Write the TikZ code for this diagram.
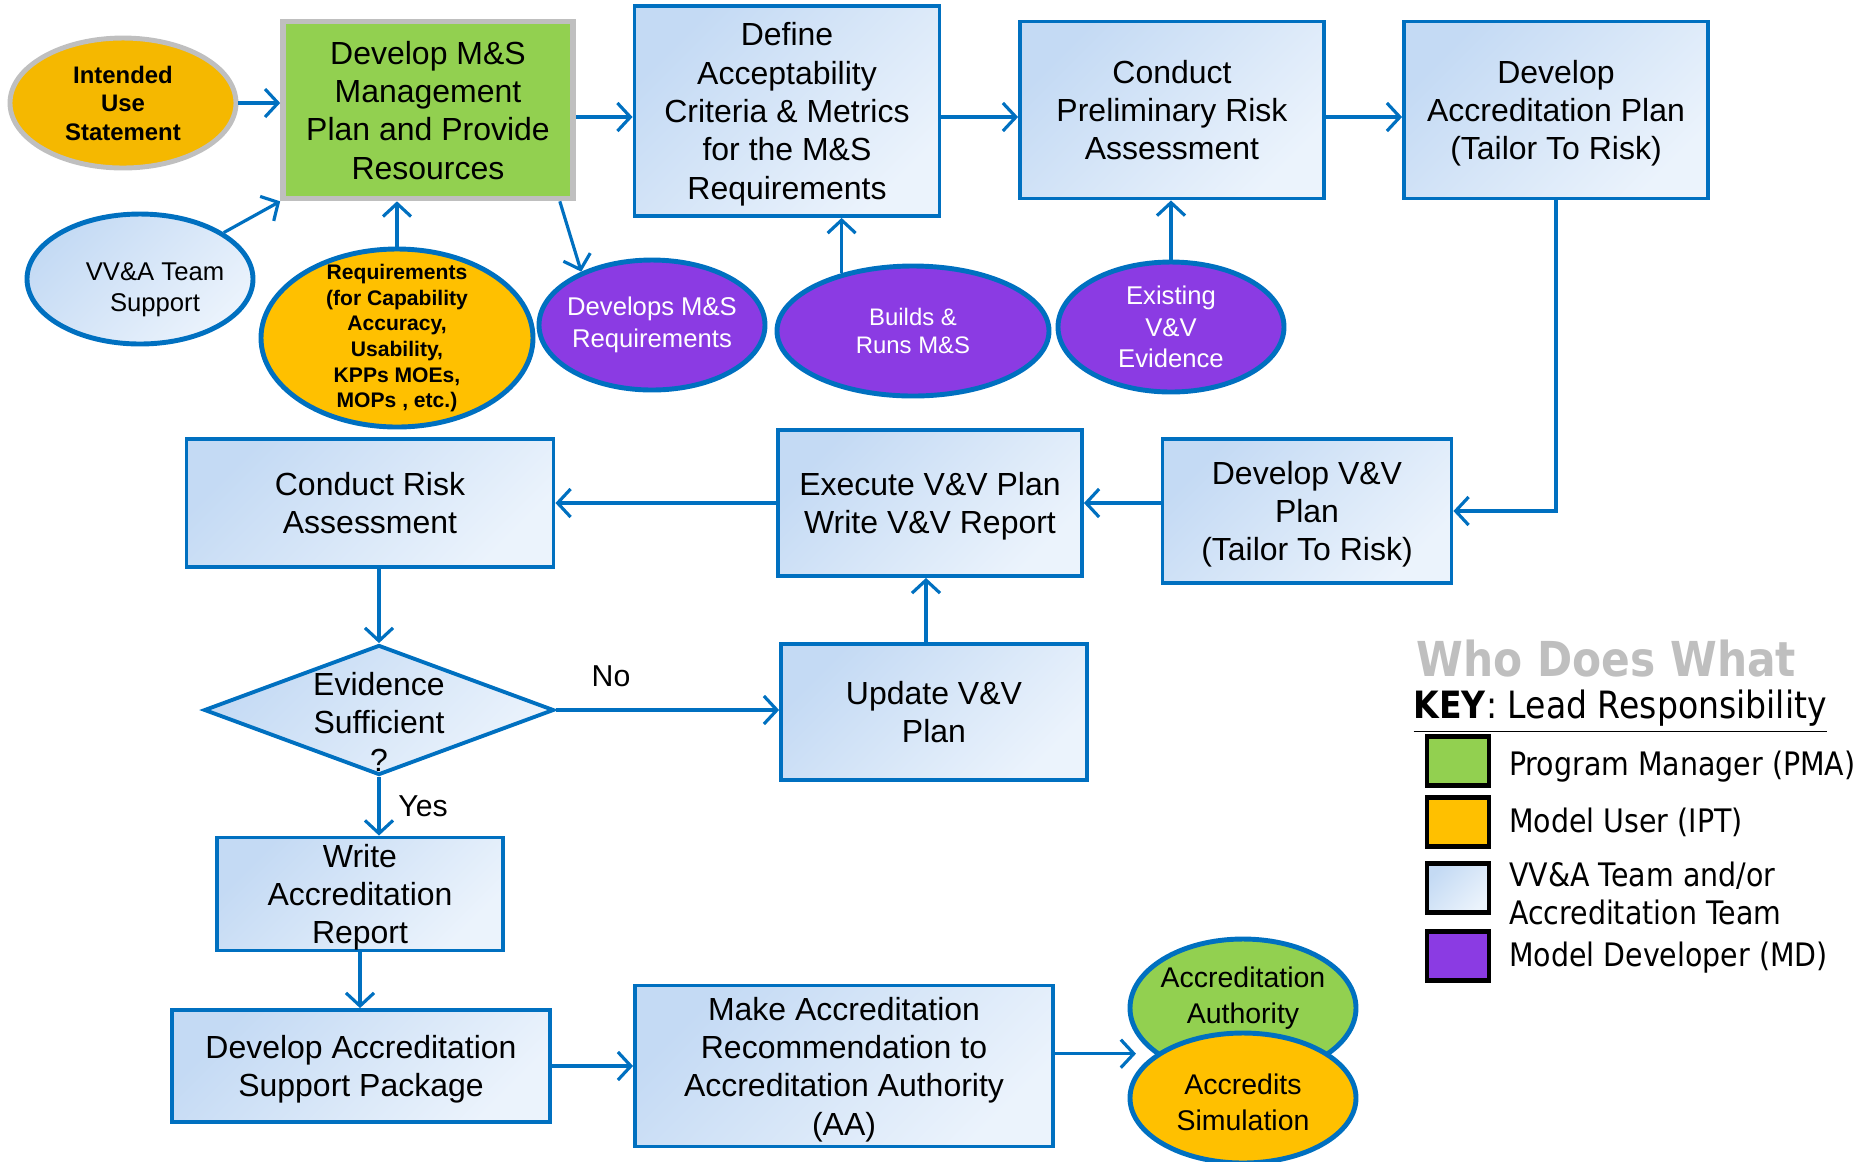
\documentclass[tikz,border=0pt]{standalone}
\usepackage{fontspec}
\setmainfont{Liberation Sans}
\newfontfamily\keyfont{DejaVu Sans}[FakeStretch=0.88]
\usetikzlibrary{arrows.meta,shapes.geometric,positioning}
\definecolor{vvblue}{HTML}{0070C0}
\definecolor{paletop}{HTML}{C4DAF4}
\definecolor{palebot}{HTML}{EBF3FC}
\definecolor{pmgreen}{HTML}{92D050}
\definecolor{ipt}{HTML}{FFC000}
\definecolor{iptdark}{HTML}{F5B800}
\definecolor{mdpurple}{HTML}{8B3BE3}
\definecolor{frame}{HTML}{BFBFBF}
\tikzset{flow/.style={-{Straight Barb[length=1.3mm,width=2.8mm]}, line width=.9pt, draw=vvblue}, boxbase/.style={rectangle, draw=vvblue, line width=1.1pt, align=center, inner sep=0pt, text depth=0pt, font=\fontsize{9.1}{10.9}\selectfont}, stepbox/.style={boxbase, top color=paletop, bottom color=palebot, shading angle=45}, role/.style={ellipse, draw=vvblue, line width=1.4pt, align=center, inner sep=0pt, inner xsep=-1.5mm, minimum width=22.6mm, minimum height=13mm, font=\fontsize{7.3}{9}\selectfont}, devrole/.style={role, fill=mdpurple, text=white}, roletext/.style={align=center, inner sep=0pt, text depth=0pt}, choice/.style={diamond, draw=vvblue, line width=1.1pt, top color=paletop, bottom color=palebot, shading angle=45, inner sep=0pt}, swatch/.style={draw=black, line width=1.4pt, minimum width=6.2mm, minimum height=4.9mm, inner sep=0pt}, keytext/.style={font=\keyfont\fontsize{9.2}{10.8}\selectfont, align=left, inner sep=0pt}}

\begin{document}
\begin{tikzpicture}[x=0.1mm,y=-0.1mm]
\useasboundingbox (0,0) rectangle (1859,1161);
\node[boxbase, draw=frame, line width=1.6pt, fill=pmgreen, minimum width=29mm, minimum height=17.7mm] (mgmt) at (428,110) {Develop M\&S\\Management\\Plan and Provide\\Resources};
\node[stepbox, minimum width=30.5mm, minimum height=21mm] (accept) at (787,111) {Define\\Acceptability\\Criteria \& Metrics\\for the M\&S\\Requirements};
\node[stepbox, minimum width=30.4mm, minimum height=17.7mm] (prelim) at (1172,110) {Conduct\\Preliminary Risk\\Assessment};
\node[stepbox, minimum width=30.4mm, minimum height=17.7mm] (accplan) at (1556,110) {Develop\\Accreditation Plan\\(Tailor To Risk)};
\node[stepbox, minimum width=28.9mm, minimum height=14.4mm] (vvplan) at (1307,511) {Develop V\&V\\Plan\\(Tailor To Risk)};
\node[stepbox, minimum width=30.4mm, minimum height=14.6mm] (execute) at (930,503) {Execute V\&V Plan\\Write V\&V Report};
\node[stepbox, minimum width=36.7mm, minimum height=12.8mm] (risk) at (370,503) {Conduct Risk\\Assessment};
\node[choice, minimum width=35mm, minimum height=13mm] (decision) at (379,710) {};
\node[align=center, font=\fontsize{9.1}{10.9}\selectfont] (decisiontext) at (379,722) {Evidence\\Sufficient\\?};
\node[stepbox, minimum width=30.6mm, minimum height=13.6mm] (update) at (934,712) {Update V\&V\\Plan};
\node[stepbox, minimum width=28.6mm, minimum height=11.3mm] (writerep) at (360,894) {Write\\Accreditation\\Report};
\node[stepbox, minimum width=37.8mm, minimum height=11.2mm] (support) at (361,1066) {Develop Accreditation\\Support Package};
\node[stepbox, minimum width=41.8mm, minimum height=16.1mm] (recommend) at (844,1066) {Make Accreditation\\Recommendation to\\Accreditation Authority\\(AA)};
\node[role, draw=frame, fill=iptdark, font=\fontsize{6.8}{8.1}\selectfont\bfseries] (intended) at (123,103) {Intended\\Use\\Statement};
\node[role, top color=paletop, bottom color=palebot, shading angle=45] (vvteam) at (140,279) {};
\node[roletext, font=\fontsize{7.3}{9}\selectfont] (vvteamtext) at (155,287) {VV\&A Team\\Support};
\node[role, fill=ipt, minimum width=27.2mm, minimum height=17.8mm] (reqs) at (397,338) {};
\node[roletext, font=\fontsize{6}{7.3}\selectfont\bfseries] (reqstext) at (397,336) {Requirements\\(for Capability\\Accuracy,\\Usability,\\KPPs MOEs,\\MOPs , etc.)};
\node[devrole] (devreq) at (652,325) {Develops M\&S\\Requirements};
\node[devrole, minimum width=27.2mm, font=\fontsize{6.8}{8.1}\selectfont] (builds) at (913,331) {Builds \&\\Runs M\&S};
\node[devrole] (existing) at (1171,327) {Existing\\V\&V\\Evidence};
\node[role, fill=pmgreen, minimum height=13.8mm] (authority) at (1243,1008) {};
\node[roletext, font=\fontsize{8.1}{10.1}\selectfont] (authoritytext) at (1243,995) {Accreditation\\Authority};
\node[role, fill=ipt] (accredits) at (1243,1098) {};
\node[roletext, font=\fontsize{8.1}{10.1}\selectfont] (accreditstext) at (1243,1102) {Accredits\\Simulation};
\node[font=\fontsize{8.6}{10}\selectfont] (lblno) at (611,676) {No};
\node[font=\fontsize{8.6}{10}\selectfont] (lblyes) at (423,806) {Yes};
\draw[flow] (intended.east) -- (intended.east -| mgmt.west);
\draw[flow] (vvteam) -- (mgmt.south west);
\draw[flow] (reqs.north) -- (reqs.north |- mgmt.south);
\draw[flow] ([xshift=-1.6mm]mgmt.south east) -- (devreq.143);
\draw[flow] ([yshift=-.7mm]mgmt.east) -- ([yshift=-.7mm]mgmt.east -| accept.west);
\draw[flow] (builds.141) -- (builds.141 |- accept.south);
\draw[flow] ([yshift=-.7mm]accept.east |- prelim.west) -- ([yshift=-.7mm]prelim.west);
\draw[flow] (existing.north) -- (existing.north |- prelim.south);
\draw[flow] ([yshift=-.7mm]prelim.east) -- ([yshift=-.7mm]accplan.west);
\draw[flow] (accplan.south) |- (vvplan.east);
\draw[flow] (vvplan.west |- execute.east) -- (execute.east);
\draw[flow] (execute.west) -- (risk.east);
\draw[flow] (risk.south -| decision.north) -- (decision.north);
\draw[flow] (decision.east) -- (decision.east -| update.west);
\draw[flow] ([xshift=-.4mm]update.north -| execute.south) -- ([xshift=-.4mm]execute.south);
\draw[flow] (decision.south) -- (decision.south |- writerep.north);
\draw[flow] (writerep.south) -- (writerep.south |- support.north);
\draw[flow] (support.east) -- (support.east -| recommend.west);
\draw[flow, shorten >=2mm] (recommend.east |- accredits.153) -- (accredits.153);
\node[anchor=west, inner sep=0pt, text=frame, font=\keyfont\fontsize{13.7}{15}\selectfont\bfseries] (whotitle) at (1416,659) {Who Does What};
\node[anchor=west, inner sep=0pt, font=\keyfont\fontsize{10.7}{12}\selectfont] (keyline) at (1413,712) {\underline{\textbf{KEY}: Lead Responsibility}};
\node[swatch, fill=pmgreen] (swpma) at (1458,761) {};
\node[swatch, fill=ipt] (swipt) at (1458,822) {};
\node[swatch, top color=paletop, bottom color=palebot, shading angle=45] (swteam) at (1458,888) {};
\node[swatch, fill=mdpurple] (swmd) at (1458,956) {};
\node[keytext, right=1.7mm of swpma, yshift=-.6mm] (keypma) {Program Manager (PMA)};
\node[keytext, right=1.7mm of swipt] (keyipt) {Model User (IPT)};
\node[keytext, right=1.7mm of swteam, yshift=-.5mm] (keyteam) {VV\&A Team and/or\\Accreditation Team};
\node[keytext, right=1.7mm of swmd, yshift=-.2mm] (keymd) {Model Developer (MD)};
\end{tikzpicture}
\end{document}
